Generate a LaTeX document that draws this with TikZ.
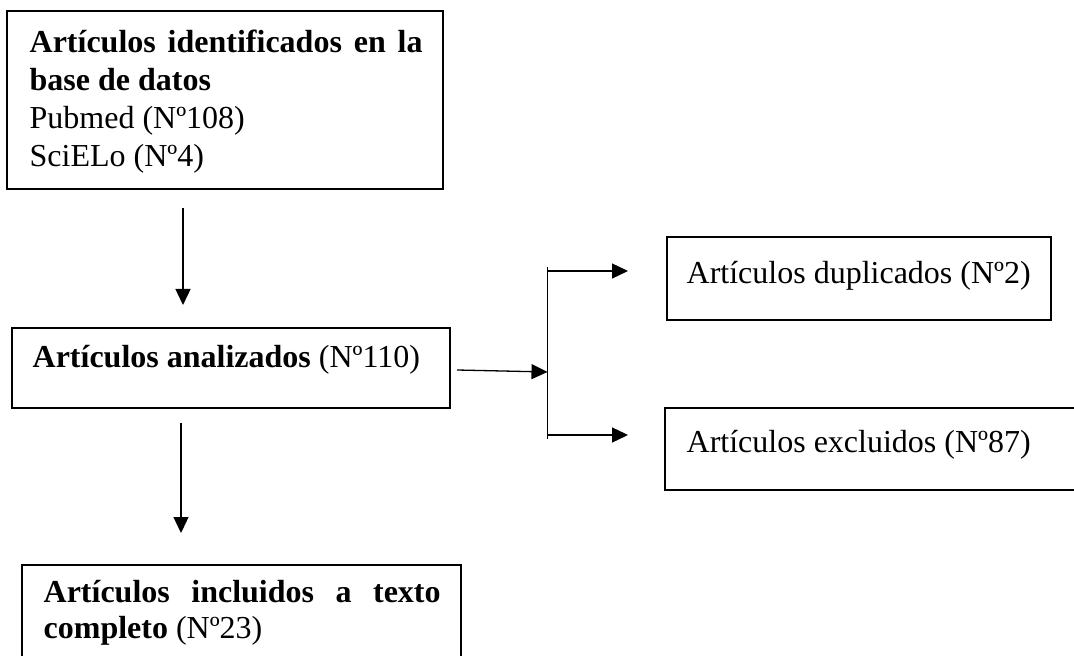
\documentclass[tikz,border=0pt]{standalone}
\usepackage{fontspec}
\setmainfont{Liberation Serif}
\usetikzlibrary{arrows.meta,fit}
\begin{document}
\begin{tikzpicture}[x=0.5pt,y=-0.5pt,line width=0.65pt,
  boxnode/.style={draw, inner sep=0pt},
  arr/.style={-{Triangle[length=8pt,width=7.5pt]}},
  txt/.style={anchor=base west, inner sep=0pt, font=\fontsize{16pt}{19pt}\selectfont}]
\useasboundingbox (0,0) rectangle (1074,656);

% boxes
\node[boxnode, fit={(7,11) (443,189)}] (b1) {};
\node[boxnode, fit={(12,328) (450,408)}] (b2) {};
\node[boxnode, fit={(667,237) (1051,320)}] (bd) {};
\node[boxnode, fit={(665,408) (1090,490)}] (be) {};
\node[boxnode, fit={(22,565) (461,680)}] (b4) {};

% texts
\node[txt] (t1) at (29,53) {\parbox[t]{210pt}{\baselineskip=19pt
  \makebox[196.5pt][s]{\textbf{Artículos identificados en la}}\\
  \textbf{base de datos}\\
  Pubmed (Nº108)\\
  SciELo (Nº4)}};
\node[txt] (t2) at (32,368) {\textbf{Artículos analizados} (Nº110)};
\node[txt] (td) at (686,284) {Artículos duplicados (Nº2)};
\node[txt] (te) at (686,453) {Artículos excluidos (Nº87)};
\node[txt] (t4) at (43,602) {\parbox[t]{210pt}{\baselineskip=18pt
  \makebox[198.5pt][s]{\textbf{Artículos incluidos a texto}}\\
  \textbf{completo} (Nº23)}};

% connector points
\coordinate (a1s) at (183,208);
\coordinate (a1e) at (183,305);
\coordinate (a2s) at (457,370);
\coordinate (a2e) at (547.5,372);
\coordinate (vt) at (547.5,267);
\coordinate (vb) at (547.5,439);
\coordinate (bt) at (547.5,271);
\coordinate (bte) at (628,271);
\coordinate (bb) at (547.5,435);
\coordinate (bbe) at (628,435);
\coordinate (a3s) at (181,423);
\coordinate (a3e) at (181,533);

\draw[arr] (a1s) -- (a1e);
\draw[arr] (a2s) -- (a2e);
\draw (vt) -- (vb);
\draw[arr] (bt) -- (bte);
\draw[arr] (bb) -- (bbe);
\draw[arr] (a3s) -- (a3e);
\end{tikzpicture}
\end{document}
